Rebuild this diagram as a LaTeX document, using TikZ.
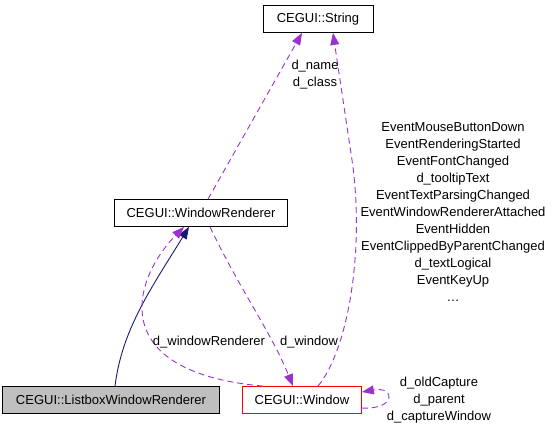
\documentclass[tikz,border=0pt]{standalone}
\usepackage{fontspec}
\setmainfont{Liberation Sans}
\usetikzlibrary{arrows.meta}
\definecolor{edgepurple}{HTML}{9A32CD}
\definecolor{edgenavy}{HTML}{191970}
\begin{document}
\begin{tikzpicture}[x=1pt,y=-1pt,
  font=\fontsize{13}{17}\selectfont,
  class/.style={draw,thick,minimum height=27pt,inner sep=0pt},
  usage/.style={draw=edgepurple,line width=0.9pt,dashed,dash pattern=on 6pt off 4pt,
    -{Triangle[length=12pt,width=9pt]}},
  inherit/.style={draw=edgenavy,line width=0.9pt,-{Triangle[length=12pt,width=9pt]}},
  lbl/.style={align=center,inner sep=0pt}]
  \useasboundingbox (0,0) rectangle (552,433);
  \node[class,minimum width=110pt] (string) at (318,19) {CEGUI::String};
  \node[class,minimum width=173pt] (renderer) at (201,213) {CEGUI::WindowRenderer};
  \node[class,minimum width=217pt,fill=black!25] (listbox) at (111,400) {CEGUI::ListboxWindowRenderer};
  \node[class,minimum width=119pt,draw=red] (window) at (302,400) {CEGUI::Window};

  \draw[inherit] (listbox.north -| 115,0) .. controls (122,330) and (150,290) .. (renderer.south -| 189,0);
  \draw[usage] (renderer.north -| 208,0) -- (string.south -| 302,0);
  \draw[usage] (window.north -| 318,0) .. controls (348,350) and (365,250) .. (352,160)
    .. controls (343,100) .. (string.south -| 333,0);
  \draw[usage] (renderer.south -| 210,0) .. controls (240,290) and (270,330) .. (window.north -| 293,0);
  \draw[usage] (window.north -| 263,0) .. controls (105,372) and (132,280) .. (renderer.south -| 184,0);
  \draw[usage] (window.south east |- 0,408) .. controls (396,410) and (396,386) .. (window.north east |- 0,392);

  \node[lbl] (lname) at (315,75) {d\_name\\d\_class};
  \node[lbl] (lrend) at (209,342) {d\_windowRenderer};
  \node[lbl] (lwin) at (309,342) {d\_window};
  \node[lbl] (levents) at (453,212) {EventMouseButtonDown\\EventRenderingStarted\\EventFontChanged\\d\_tooltipText\\EventTextParsingChanged\\EventWindowRendererAttached\\EventHidden\\EventClippedByParentChanged\\d\_textLogical\\EventKeyUp\\\dots};
  \node[lbl] (lself) at (439,400) {d\_oldCapture\\d\_parent\\d\_captureWindow};
\end{tikzpicture}
\end{document}
